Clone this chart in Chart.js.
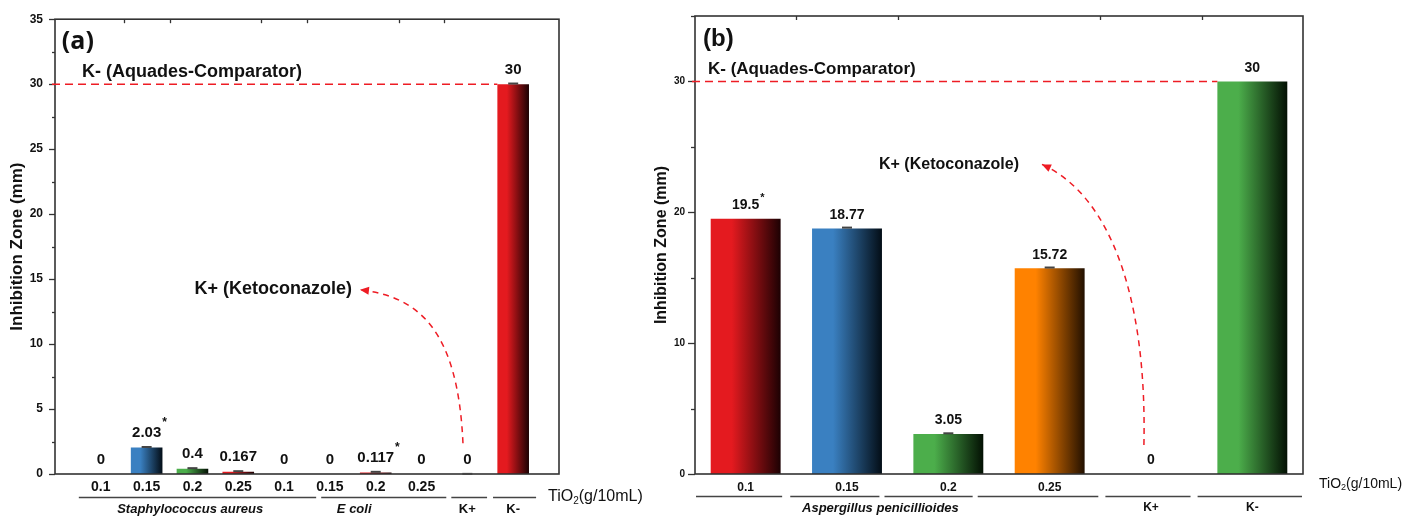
<!DOCTYPE html>
<html><head><meta charset="utf-8">
<script src="https://cdn.jsdelivr.net/npm/chart.js@4.4.1/dist/chart.umd.min.js"></script>
<style>
html,body{margin:0;padding:0;background:#fff;width:1417px;height:516px;overflow:hidden;}
canvas{position:absolute;top:0;}
#ca{left:0}
#cb{left:630px}
</style></head><body>
<canvas id="ca" width="700" height="516"></canvas>
<canvas id="cb" width="787" height="516"></canvas>
<script>
// ================= DATA (a) =================
const categoriesA = ['0.1','0.15','0.2','0.25','0.1','0.15','0.2','0.25','K+','K-'];
const tickLabelsA = ['0.1','0.15','0.2','0.25','0.1','0.15','0.2','0.25','',''];
const valuesA = [0, 2.03, 0.4, 0.167, 0, 0, 0.117, 0, 0, 30];
const errorsA = [0, 0.05, 0.05, 0.05, 0, 0, 0.05, 0, 0.01, 0.05];
const starsA = [false, true, false, false, false, false, true, false, false, false];
const colorsA = ['red','blue','green','red','red','red','red','red','red','red'];
const groupLabelsA = ['Staphylococcus aureus','E coli','K+','K-'];
const yMaxA = 35;

// ================= DATA (b) =================
const categoriesB = ['0.1','0.15','0.2','0.25','K+','K-'];
const tickLabelsB = ['0.1','0.15','0.2','0.25','',''];
const valuesB = [19.5, 18.77, 3.05, 15.72, 0, 30];
const errorsB = [0, 0.06, 0.06, 0.06, 0, 0];
const starsB = [true, false, false, false, false, false];
const colorsB = ['red','blue','green','orange','green','green'];
const groupLabelsB = ['Aspergillus penicillioides','K+','K-'];
const yMaxB = 35;

// ================= STYLE =================
const FONT = '"Liberation Sans", Arial, sans-serif';
const PALETTE = {
  red:    ['#e41a1f', '#1c0103'],
  blue:   ['#3a80c1', '#030d16'],
  green:  ['#4cae4b', '#031003'],
  orange: ['#ff8200', '#221000']
};
const RED = '#ee1c24';
const AXIS = '#333333';

function txt(ctx, s, x, y, font, align, color) {
  ctx.save();
  ctx.font = font; ctx.fillStyle = color || '#111';
  ctx.textAlign = align || 'left'; ctx.textBaseline = 'middle';
  ctx.fillText(s, x, y);
  ctx.restore();
}

function makeDeco(c) {
  return {
    id: 'deco',
    beforeDatasetsDraw(chart) {
      const ctx = chart.ctx;
      const meta = chart.getDatasetMeta(0);
      meta.data.forEach((el, k) => {
        const i = k - c.off;
        if (i < 0 || i >= c.values.length) return;
        const pal = PALETTE[c.colors[i]];
        const x0 = el.x - el.width / 2;
        const g = ctx.createLinearGradient(x0, 0, x0 + el.width, 0);
        g.addColorStop(0, pal[0]);
        g.addColorStop(0.3, pal[0]);
        g.addColorStop(1, pal[1]);
        el.options.backgroundColor = g;
      });
    },
    afterDraw(chart) {
      const ctx = chart.ctx, ca = chart.chartArea;
      const xs = chart.scales.x, ys = chart.scales.y;
      const X = v => xs.getPixelForValue(v), Y = v => ys.getPixelForValue(v);
      const meta = chart.getDatasetMeta(0);
      ctx.save();
      // frame
      ctx.strokeStyle = AXIS; ctx.lineWidth = 1.6;
      ctx.strokeRect(ca.left, ca.top, ca.right - ca.left, ca.bottom - ca.top);
      // y ticks
      ctx.lineWidth = 1.3;
      ys.ticks.forEach(t => {
        const major = Math.abs(t.value % c.yMajor) < 1e-9;
        const len = major ? c.majorLen : c.minorLen;
        const py = Math.round(Y(t.value)) + 0.5;
        ctx.beginPath(); ctx.moveTo(ca.left - len, py); ctx.lineTo(ca.left, py); ctx.stroke();
      });
      // top ticks
      c.topTicks.forEach(p => {
        const px = Math.round(X(p)) + 0.5;
        ctx.beginPath(); ctx.moveTo(px, ca.top); ctx.lineTo(px, ca.top + 4); ctx.stroke();
      });
      // reference dashed line at K- value
      const last = meta.data[c.off + c.values.length - 1];
      ctx.strokeStyle = RED; ctx.lineWidth = 1.5; ctx.setLineDash([8, 5]);
      const ry = Y(c.values[c.values.length - 1]);
      ctx.beginPath(); ctx.moveTo(ca.left - 3, ry); ctx.lineTo(last.x - last.width / 2, ry); ctx.stroke();
      ctx.setLineDash([]);
      // error caps & value labels
      c.values.forEach((v, i) => {
        const el = meta.data[i + c.off];
        if (c.errors[i] > 0) {
          const cy = Y(v + c.errors[i]);
          ctx.strokeStyle = '#444'; ctx.lineWidth = 2;
          ctx.beginPath(); ctx.moveTo(el.x - 5, cy); ctx.lineTo(el.x + 5, cy); ctx.stroke();
        }
        const s = String(v);
        const ly = Y(v) - c.labelGap;
        txt(ctx, s, el.x, ly, c.labelFont, 'center', '#111');
        if (c.stars[i]) {
          ctx.font = c.labelFont;
          const w = ctx.measureText(s).width;
          txt(ctx, '*', el.x + w / 2 + 1, ly + c.starDy, c.starFont, 'left', '#111');
        }
      });
      // annotation texts
      c.texts.forEach(t => txt(ctx, t.t, X(t.x), Y(t.y), t.font, t.align, '#111'));
      // curved arrow
      const p = c.arrow.map(a => [X(a[0]), Y(a[1])]);
      ctx.strokeStyle = RED; ctx.lineWidth = 1.5; ctx.setLineDash([6, 5]);
      ctx.beginPath(); ctx.moveTo(p[0][0], p[0][1]);
      ctx.bezierCurveTo(p[1][0], p[1][1], p[2][0], p[2][1], p[3][0], p[3][1]);
      ctx.stroke(); ctx.setLineDash([]);
      const ang = Math.atan2(p[3][1] - p[2][1], p[3][0] - p[2][0]);
      ctx.fillStyle = RED;
      ctx.beginPath();
      ctx.moveTo(p[3][0], p[3][1]);
      ctx.lineTo(p[3][0] - 9 * Math.cos(ang) + 4 * Math.sin(ang), p[3][1] - 9 * Math.sin(ang) - 4 * Math.cos(ang));
      ctx.lineTo(p[3][0] - 9 * Math.cos(ang) - 4 * Math.sin(ang), p[3][1] - 9 * Math.sin(ang) + 4 * Math.cos(ang));
      ctx.closePath(); ctx.fill();
      // group lines and labels
      ctx.strokeStyle = '#444'; ctx.lineWidth = 1.5;
      const gy = Math.round(ca.bottom + c.lineDy) + 0.5;
      c.groupLines.forEach(g => {
        ctx.beginPath(); ctx.moveTo(X(g[0]), gy); ctx.lineTo(X(g[1]), gy); ctx.stroke();
      });
      c.groupLabels.forEach(g => txt(ctx, g.t, X(g.x), ca.bottom + c.labelDy, g.font, 'center', '#111'));
      // y title
      ctx.save();
      ctx.translate(ca.left + c.yTitle.dx, (ca.top + ca.bottom) / 2);
      ctx.rotate(-Math.PI / 2);
      txt(ctx, 'Inhibition Zone (mm)', 0, 0, c.yTitle.font, 'center', '#111');
      ctx.restore();
      // TiO2 label
      const tx = ca.right + c.tio.dx, ty = ca.bottom + c.tio.dy, fs = c.tio.size;
      ctx.font = fs + 'px ' + FONT;
      const w1 = ctx.measureText('TiO').width;
      txt(ctx, 'TiO', tx, ty, fs + 'px ' + FONT, 'left', '#111');
      ctx.font = Math.round(fs * 0.65) + 'px ' + FONT;
      const w2 = ctx.measureText('2').width;
      txt(ctx, '2', tx + w1, ty + fs * 0.28, Math.round(fs * 0.65) + 'px ' + FONT, 'left', '#111');
      txt(ctx, '(g/10mL)', tx + w1 + w2, ty, fs + 'px ' + FONT, 'left', '#111');
      ctx.restore();
    }
  };
}

function buildChart(id, cfg) {
  const pad = Array(cfg.off).fill(null);
  const data = pad.concat(cfg.values, pad);
  const labels = pad.map(() => '').concat(cfg.tickLabels, pad.map(() => ''));
  const yTicks = [];
  for (let v = 0; v <= cfg.yMax + 1e-9; v += cfg.yMinor) yTicks.push(+v.toFixed(4));
  return new Chart(document.getElementById(id), {
    type: 'bar',
    data: {
      labels: labels,
      datasets: [{
        data: data,
        backgroundColor: ctx => '#888',
        borderWidth: 0,
        barPercentage: 0.69,
        categoryPercentage: 1
      }]
    },
    options: {
      responsive: false,
      animation: false,
      devicePixelRatio: 1,
      layout: { padding: cfg.padding },
      plugins: { legend: { display: false }, tooltip: { enabled: false } },
      scales: {
        x: {
          type: 'category',
          offset: cfg.off === 0,
          grid: { display: false, drawTicks: false, tickLength: 0 },
          border: { display: false },
          ticks: { autoSkip: false, maxRotation: 0, minRotation: 0, padding: cfg.xPad,
                   color: '#111', font: { family: FONT, size: cfg.xFont, weight: 'bold' } },
          afterFit: s => { s.height = 42; }
        },
        y: {
          min: 0, max: cfg.yMax,
          grid: { display: false, drawTicks: false, tickLength: 0 },
          border: { display: false },
          afterBuildTicks: s => { s.ticks = yTicks.map(v => ({ value: v })); },
          ticks: {
            padding: cfg.yPad, color: '#111',
            font: { family: FONT, size: cfg.yFont, weight: 'bold' },
            callback: v => (Math.abs(v % cfg.yMajor) < 1e-9 ? String(v) : '')
          },
          afterFit: s => { s.width = cfg.yWidth; }
        }
      }
    },
    plugins: [makeDeco(cfg)]
  });
}

buildChart('ca', {
  off: 1,
  values: valuesA, errors: errorsA, stars: starsA, colors: colorsA, tickLabels: tickLabelsA,
  yMax: yMaxA, yMinor: 2.5, yMajor: 5, majorLen: 6, minorLen: 3,
  padding: { left: 0, right: 141, top: 15, bottom: 0 }, yWidth: 55,
  xFont: 14, xPad: 5, yFont: 12, yPad: 12,
  labelFont: 'bold 15px ' + FONT, labelGap: 14.5, starFont: 'bold 12px ' + FONT, starDy: -10,
  topTicks: [1.5, 2.5, 4.5, 5.5, 7.5, 8.5],
  texts: [
    { t: '(a)', x: 0.15, y: 33.25, font: 'bold 25px "Open Sans", ' + FONT, align: 'left' },
    { t: 'K- (Aquades-Comparator)', x: 0.59, y: 30.96, font: 'bold 18px ' + FONT, align: 'left' },
    { t: 'K+ (Ketoconazole)', x: 6.48, y: 14.26, font: 'bold 18px ' + FONT, align: 'right' }
  ],
  arrow: [[8.904, 2.364], [8.795, 10.98], [7.966, 13.65], [6.656, 14.18]],
  groupLines: [[0.52, 5.7], [5.81, 8.54], [8.65, 9.43], [9.56, 10.5]],
  lineDy: 23,
  groupLabels: [
    { t: groupLabelsA[0], x: 2.95, font: 'italic bold 13px ' + FONT },
    { t: groupLabelsA[1], x: 6.53, font: 'italic bold 13px ' + FONT },
    { t: groupLabelsA[2], x: 9, font: 'bold 13px ' + FONT },
    { t: groupLabelsA[3], x: 10, font: 'bold 13px ' + FONT }
  ],
  labelDy: 35,
  yTitle: { dx: -38, font: 'bold 17px ' + FONT },
  tio: { dx: -11, dy: 23, size: 16 }
});

buildChart('cb', {
  off: 0,
  values: valuesB, errors: errorsB, stars: starsB, colors: colorsB, tickLabels: tickLabelsB,
  yMax: yMaxB, yMinor: 5, yMajor: 10, majorLen: 7, minorLen: 4,
  padding: { left: 0, right: 114, top: 14, bottom: 0 }, yWidth: 65,
  xFont: 12, xPad: 6, yFont: 10, yPad: 10,
  labelFont: 'bold 14px ' + FONT, labelGap: 13.5, starFont: 'bold 11px ' + FONT, starDy: -7,
  topTicks: [0.5, 1.5, 3.5, 4.5],
  texts: [
    { t: '(b)', x: -0.421, y: 33.25, font: 'bold 24px ' + FONT, align: 'left' },
    { t: 'K- (Aquades-Comparator)', x: -0.372, y: 30.89, font: 'bold 17px ' + FONT, align: 'left' },
    { t: 'K+ (Ketoconazole)', x: 1.316, y: 23.66, font: 'bold 16px ' + FONT, align: 'left' }
  ],
  arrow: [[3.93, 2.21], [3.961, 13.24], [3.615, 21.23], [2.924, 23.66]],
  groupLines: [[-0.49, 0.36], [0.44, 1.32], [1.37, 2.24], [2.29, 3.48], [3.55, 4.39], [4.46, 5.49]],
  lineDy: 22,
  groupLabels: [
    { t: groupLabelsB[0], x: 1.33, font: 'italic bold 13px ' + FONT },
    { t: groupLabelsB[1], x: 4, font: 'bold 12px ' + FONT },
    { t: groupLabelsB[2], x: 5, font: 'bold 12px ' + FONT }
  ],
  labelDy: 34,
  yTitle: { dx: -33, font: 'bold 16px ' + FONT },
  tio: { dx: 16, dy: 10, size: 14 }
});
</script>
</body></html>
